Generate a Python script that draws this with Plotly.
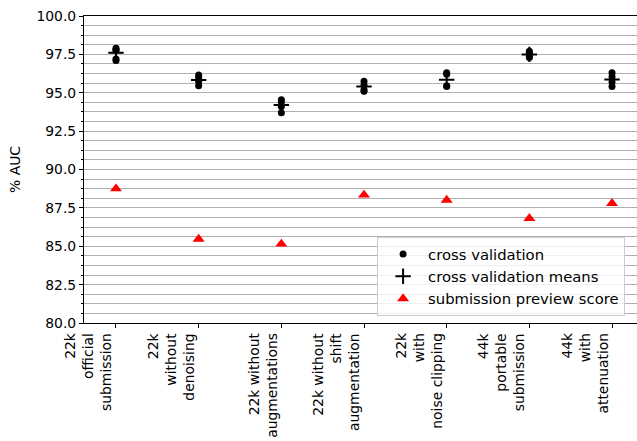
import plotly.graph_objects as go

categories = [
    "22k<br>official<br>submission",
    "22k<br>without<br>denoising",
    "22k without<br>augmentations",
    "22k without<br>shift<br>augmentation",
    "22k<br>with<br>noise clipping",
    "44k<br>portable<br>submission",
    "44k<br>with<br>attenuation",
]

cv_folds = [
    [97.9, 97.8, 97.75, 97.2, 97.1],
    [96.15, 96.0, 95.75, 95.45],
    [94.55, 94.4, 94.1, 93.7],
    [95.75, 95.5, 95.2, 95.1],
    [96.3, 96.2, 95.45, 95.4],
    [97.7, 97.6, 97.35, 97.3],
    [96.3, 96.05, 95.7, 95.4],
]
cv_means = [97.6, 95.83, 94.2, 95.4, 95.85, 97.5, 95.87]
preview_scores = [88.75, 85.47, 85.15, 88.34, 88.01, 86.82, 87.8]

y_ticks = [80.0, 82.5, 85.0, 87.5, 90.0, 92.5, 95.0, 97.5, 100.0]

FONT = "DejaVu Sans"
FS = 13.9
LEG_FS = 14.8

idx = list(range(len(categories)))
cv_x = [i for i, f in zip(idx, cv_folds) for _ in f]
cv_y = [v for f in cv_folds for v in f]

fig = go.Figure()
fig.add_trace(go.Scatter(
    x=cv_x, y=cv_y, mode="markers", name="cross validation",
    marker=dict(symbol="circle", size=7, color="black"),
))
fig.add_trace(go.Scatter(
    x=idx, y=cv_means, mode="markers", name="cross validation means",
    marker=dict(symbol="cross-thin", size=11, color="black",
                line=dict(color="black", width=2)),
))
fig.add_trace(go.Scatter(
    x=idx, y=preview_scores, mode="markers", name="submission preview score",
    marker=dict(symbol="triangle-up", size=10.5, color="red"),
))

for i, lab in enumerate(categories):
    fig.add_annotation(
        x=i, xref="x", y=0, yref="paper", yshift=-8,
        text=lab, textangle=-90, xanchor="right", yanchor="top",
        align="right", showarrow=False,
        font=dict(family=FONT, size=FS, color="black"),
    )

fig.update_layout(
    width=637, height=441,
    margin=dict(l=84, r=0, t=16, b=118, autoexpand=False),
    paper_bgcolor="white", plot_bgcolor="white",
    font=dict(family=FONT, size=FS, color="black"),
    showlegend=True,
    legend=dict(
        x=0.530, y=0.023, xanchor="left", yanchor="bottom",
        bgcolor="rgba(255,255,255,0.8)", bordercolor="#cccccc", borderwidth=1,
        font=dict(family=FONT, size=LEG_FS, color="black"),
        tracegroupgap=0, itemsizing="trace", itemwidth=40,
    ),
)

fig.update_xaxes(
    range=[-0.387, 6.302], tickmode="array", tickvals=idx,
    ticktext=["" for _ in idx], automargin=False,
    showgrid=False, zeroline=False,
    showline=True, linecolor="black", linewidth=1, mirror=True,
    ticks="outside", ticklen=4, tickwidth=1, tickcolor="black",
)
fig.update_yaxes(
    range=[80, 100], tickmode="array", tickvals=y_ticks,
    ticktext=[f"{v:.1f}" for v in y_ticks], automargin=False,
    showgrid=True, gridcolor="#b0b0b0", gridwidth=0.8,
    zeroline=False,
    showline=True, linecolor="black", linewidth=1,
    ticks="outside", ticklen=4, tickwidth=1, tickcolor="black",
    minor=dict(dtick=0.625, tick0=80, showgrid=True, gridcolor="#b0b0b0",
               gridwidth=0.8, ticks="outside", ticklen=2, tickcolor="black"),
    title=dict(text="% AUC", standoff=12, font=dict(family=FONT, size=FS)),
)

fig.write_html("out.html", config={"displayModeBar": False})

# remove the browser's default page margin so the figure sits at (0, 0)
with open("out.html", "r", encoding="utf-8") as fh:
    html = fh.read()
html = html.replace("<body>", '<body style="margin:0;padding:0;">', 1)
html = html.replace("<head>", '<head><style>html,body{margin:0;padding:0;overflow:hidden;}</style>', 1)
with open("out.html", "w", encoding="utf-8") as fh:
    fh.write(html)
